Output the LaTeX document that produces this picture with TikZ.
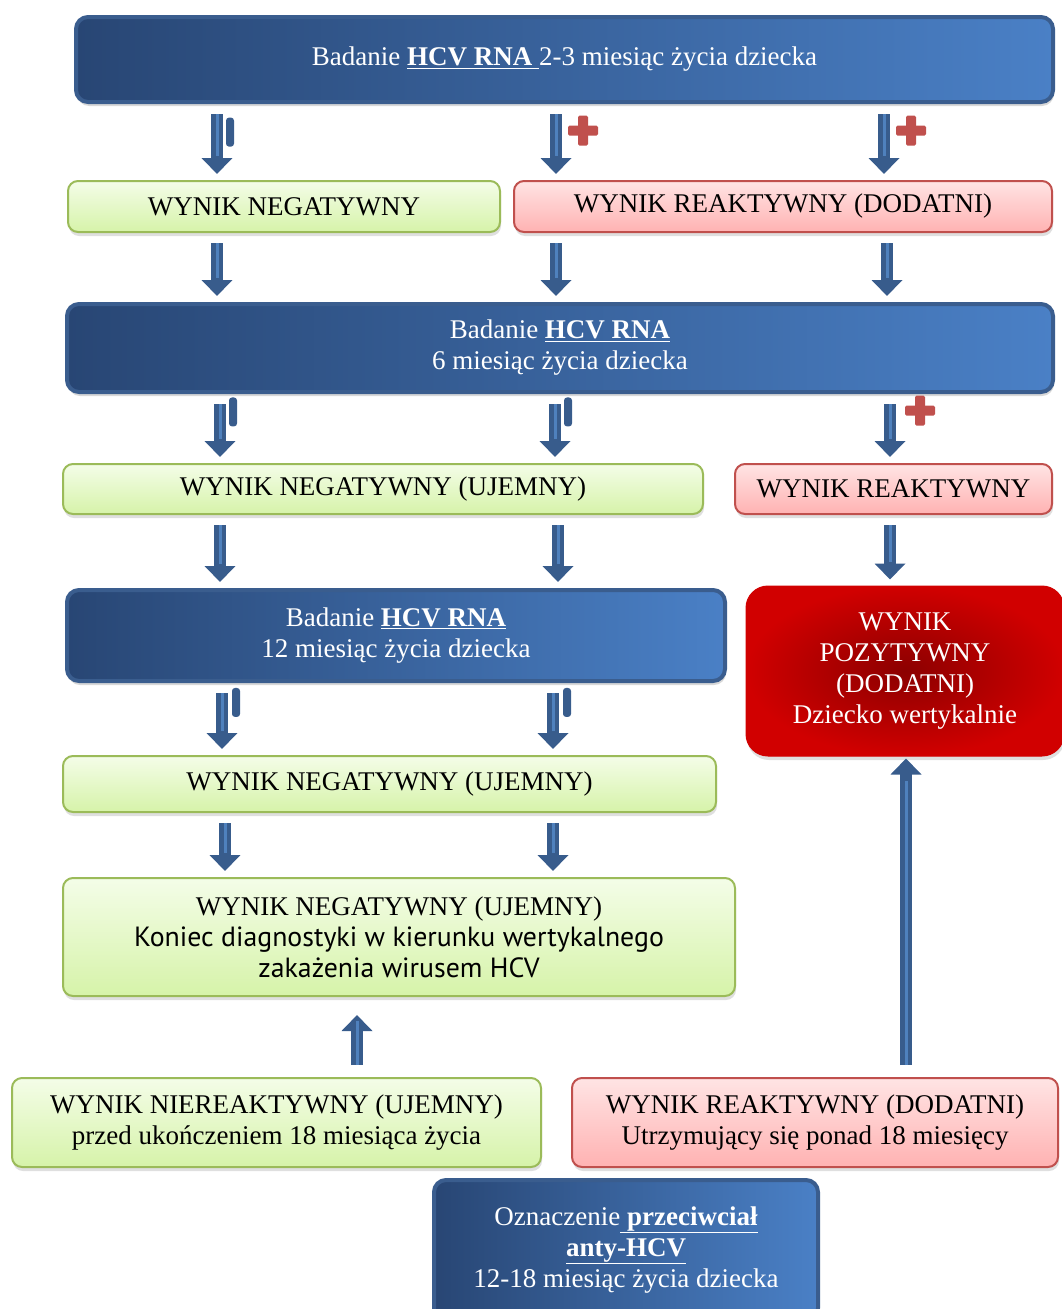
\documentclass[tikz,border=0pt]{standalone}
\usepackage{fontspec}
\setmainfont{Liberation Serif}
\newfontfamily\koniecfont[Scale=1.03]{PT Sans}
\usepackage{tikz}
\usetikzlibrary{arrows.meta, shadows}
\definecolor{hcvdark}{HTML}{284674}
\definecolor{hcvlight}{HTML}{4A80C6}
\definecolor{hcvedge}{HTML}{3A5D8E}
\definecolor{negtop}{HTML}{F4FDE8}
\definecolor{negbottom}{HTML}{D6F3A9}
\definecolor{negedge}{HTML}{9BBB59}
\definecolor{reaktop}{HTML}{FFE4E4}
\definecolor{reakbottom}{HTML}{FFB2B2}
\definecolor{reakedge}{HTML}{C0504D}
\definecolor{posinner}{HTML}{8C0000}
\definecolor{posouter}{HTML}{D10000}
\definecolor{arrowdark}{HTML}{385C8C}
\definecolor{arrowlight}{HTML}{4F81BD}
\definecolor{signred}{HTML}{C0504D}
\newcommand{\boxfont}{\fontsize{27}{31}\selectfont}
\tikzstyle{badanie} = [rectangle, rounded corners=12pt, left color=hcvdark,
    right color=hcvlight, draw=hcvedge, line width=4pt, text=white,
    align=center, font=\boxfont, inner sep=0pt,
    drop shadow={shadow xshift=1pt, shadow yshift=-4pt, fill=black!30}]
\tikzstyle{negbox} = [rectangle, rounded corners=10pt, top color=negtop,
    bottom color=negbottom, draw=negedge, line width=2pt, align=center,
    font=\boxfont, inner sep=0pt,
    drop shadow={shadow xshift=1pt, shadow yshift=-4pt, fill=black!25}]
\tikzstyle{reakbox} = [rectangle, rounded corners=10pt, top color=reaktop,
    bottom color=reakbottom, draw=reakedge, line width=2pt, align=center,
    font=\boxfont, inner sep=0pt,
    drop shadow={shadow xshift=1pt, shadow yshift=-4pt, fill=black!25}]
\tikzstyle{posbox} = [rectangle, rounded corners=22pt, inner color=posinner,
    outer color=posouter, draw=posouter, line width=1pt, text=white,
    align=center, font=\boxfont, inner sep=0pt,
    drop shadow={shadow xshift=1pt, shadow yshift=-4pt, fill=black!25}]
\tikzstyle{barrow} = [draw=arrowdark, line width=12pt,
    -{Triangle[width=30pt,length=16pt]}, shorten <=10pt, shorten >=6pt,
    postaction={draw=arrowlight, line width=3pt, -, shorten >=24pt}]
\tikzstyle{minusbar} = [rectangle, rounded corners=3pt, fill=arrowdark,
    minimum width=8pt, minimum height=29pt, inner sep=0pt]
\tikzset{redplus/.pic={
    \fill[signred, rounded corners=1.5pt] (-15pt,-5pt) rectangle (15pt,5pt);
    \fill[signred, rounded corners=1.5pt] (-5pt,-15pt) rectangle (5pt,15pt);
}}

\begin{document}
\begin{tikzpicture}[x=1pt, y=-1pt]

        \useasboundingbox (0,0) rectangle (1062,1309);

        % HCV RNA badania
        \node (top) [badanie, minimum width=977pt, minimum height=85pt]
            at (564.5,59.5)
            {Badanie \underline{\textbf{HCV RNA\ }}2-3 miesiąc życia dziecka};
        \node (hcv6) [badanie, minimum width=986pt, minimum height=88pt]
            at (560,348)
            {Badanie \underline{\textbf{HCV RNA}}\\ 6 miesiąc życia dziecka};
        \node (hcv12) [badanie, minimum width=658pt, minimum height=91pt]
            at (396,635.5)
            {Badanie \underline{\textbf{HCV RNA}}\\ 12 miesiąc życia dziecka};

        % wyniki
        \node (neg1) [negbox, minimum width=432pt, minimum height=51pt]
            at (284,206.5) {WYNIK NEGATYWNY};
        \node (reak1) [reakbox, minimum width=538pt, minimum height=51pt]
            at (783,206.5) {WYNIK REAKTYWNY (DODATNI)};
        \node (neg2) [negbox, minimum width=640pt, minimum height=50pt]
            at (383,489) {WYNIK NEGATYWNY (UJEMNY)};
        \node (reak2) [reakbox, minimum width=317pt, minimum height=50pt]
            at (893.5,489) {WYNIK REAKTYWNY};
        \node (pos) [posbox, minimum width=318pt, minimum height=170pt]
            at (905,671)
            {WYNIK\\ POZYTYWNY\\ (DODATNI)\\ Dziecko wertykalnie};
        \node (neg3) [negbox, minimum width=653pt, minimum height=56pt]
            at (389.5,784) {WYNIK NEGATYWNY (UJEMNY)};
        \node (koniec) [negbox, minimum width=672pt, minimum height=118pt]
            at (399,937)
            {WYNIK NEGATYWNY (UJEMNY)\\
            \koniecfont Koniec diagnostyki w kierunku wertykalnego\\
            \koniecfont zakażenia wirusem HCV};

        % przeciwciala
        \node (nierea) [negbox, minimum width=529pt, minimum height=89pt]
            at (276.5,1122.5)
            {WYNIK NIEREAKTYWNY (UJEMNY)\\ przed ukończeniem 18 miesiąca życia};
        \node (reak3) [reakbox, minimum width=486pt, minimum height=89pt]
            at (815,1122.5)
            {WYNIK REAKTYWNY (DODATNI)\\ Utrzymujący się ponad 18 miesięcy};
        \node (anty) [badanie, minimum width=384pt, minimum height=140pt]
            at (626,1250)
            {Oznaczenie\underline{\textbf{\ przeciwciał}}\\
            \underline{\textbf{anty-HCV}}\\ 12-18 miesiąc życia dziecka};

        % arrows
        \draw [barrow] (top.south -| 217,0) --
            node[minusbar, pos=0.37, xshift=13pt] {} (neg1.north -| 217,0);
        \draw [barrow] (top.south -| 556,0) --
            pic[pos=0.35, xshift=27pt] {redplus} (reak1.north -| 556,0);
        \draw [barrow] (top.south -| 884,0) --
            pic[pos=0.35, xshift=27pt] {redplus} (reak1.north -| 884,0);

        \draw [barrow] (neg1.south -| 217,0) -- (hcv6.north -| 217,0);
        \draw [barrow] (reak1.south -| 556,0) -- (hcv6.north -| 556,0);
        \draw [barrow] (reak1.south -| 887,0) -- (hcv6.north -| 887,0);

        \draw [barrow] (hcv6.south -| 220,0) --
            node[minusbar, pos=0.26, xshift=13pt] {} (neg2.north -| 220,0);
        \draw [barrow] (hcv6.south -| 555,0) --
            node[minusbar, pos=0.26, xshift=13pt] {} (neg2.north -| 555,0);
        \draw [barrow] (hcv6.south -| 890,0) --
            pic[pos=0.24, xshift=30pt] {redplus} (reak2.north -| 890,0);

        \draw [barrow] (neg2.south -| 220,0) -- (hcv12.north -| 220,0);
        \draw [barrow] (neg2.south -| 558,0) -- (hcv12.north -| 558,0);
        \draw [barrow] (reak2.south -| 890,0) -- (pos.north -| 890,0);

        \draw [barrow] (hcv12.south -| 222,0) --
            node[minusbar, pos=0.27, xshift=14pt] {} (neg3.north -| 222,0);
        \draw [barrow] (hcv12.south -| 553,0) --
            node[minusbar, pos=0.27, xshift=14pt] {} (neg3.north -| 553,0);

        \draw [barrow] (neg3.south -| 225,0) -- (koniec.north -| 225,0);
        \draw [barrow] (neg3.south -| 553,0) -- (koniec.north -| 553,0);

        \draw [barrow, shorten <=12pt, shorten >=18pt]
            (nierea.north -| 357,0) -- (koniec.south -| 357,0);
        \draw [barrow, shorten <=12pt, shorten >=2pt]
            (reak3.north -| 906,0) -- (pos.south -| 906,0);

\end{tikzpicture}
\end{document}
